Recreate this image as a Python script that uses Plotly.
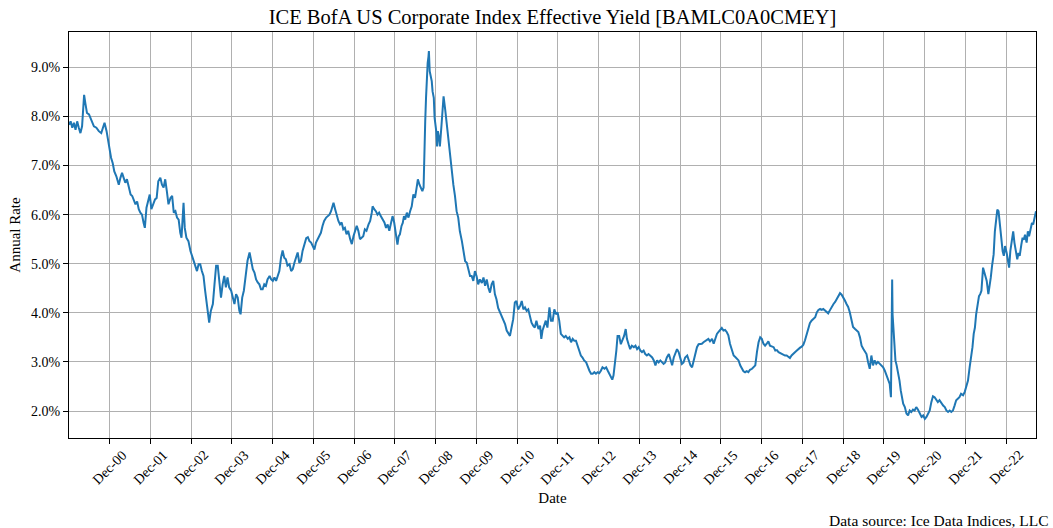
import plotly.graph_objects as go
from datetime import datetime

# decimal-year positions (Dec-00 tick == 2001.0)
years = [
 2000.00,2000.04,2000.08,2000.12,2000.16,2000.20,2000.24,2000.28,2000.32,2000.35,2000.37,2000.40,2000.44,2000.49,
 2000.53,2000.57,2000.61,2000.67,2000.73,2000.79,2000.84,2000.87,2000.92,2000.96,2001.00,2001.03,2001.07,2001.11,
 2001.16,2001.22,2001.26,2001.30,2001.34,2001.38,2001.42,2001.47,2001.51,2001.55,2001.59,2001.63,2001.67,2001.71,
 2001.75,2001.79,2001.83,2001.86,2001.90,2001.94,2001.98,2002.02,2002.06,2002.11,2002.15,2002.19,2002.24,2002.28,
 2002.32,2002.36,2002.40,2002.44,2002.49,2002.53,2002.57,2002.61,2002.65,2002.69,2002.73,2002.76,2002.81,2002.84,
 2002.88,2002.93,2002.98,2003.02,2003.06,2003.10,2003.14,2003.18,2003.22,
 2003.26,2003.30,2003.34,2003.38,2003.42,2003.44,2003.48,2003.53,2003.57,2003.61,2003.65,2003.69,2003.73,2003.77,
 2003.81,2003.85,2003.89,2003.93,2003.98,2004.02,2004.06,2004.10,2004.14,2004.18,2004.21,2004.25,2004.29,2004.34,
 2004.38,2004.43,2004.47,2004.51,2004.55,2004.59,2004.63,2004.67,2004.71,2004.75,2004.79,2004.83,2004.87,2004.92,
 2004.96,2005.00,2005.04,2005.08,2005.12,2005.16,2005.20,2005.24,2005.28,2005.32,2005.36,2005.41,2005.45,2005.49,
 2005.53,2005.57,2005.61,2005.65,2005.69,2005.73,2005.77,2005.82,2005.86,2005.90,2005.94,2005.98,2006.02,2006.06,
 2006.10,2006.14,2006.18,2006.22,2006.26,2006.31,2006.35,2006.39,2006.43,2006.47,2006.49,2006.53,2006.57,2006.61,
 2006.65,2006.69,2006.73,2006.77,2006.81,2006.85,2006.90,2006.94,2006.98,2007.02,2007.06,2007.10,2007.14,2007.18,
 2007.22,2007.26,2007.30,2007.35,2007.39,2007.43,2007.45,2007.49,2007.53,2007.57,2007.61,2007.65,2007.69,2007.74,
 2007.78,2007.82,2007.86,2007.90,2007.94,2007.98,2008.02,
 2008.06,2008.09,2008.12,2008.16,2008.19,2008.22,2008.25,2008.29,2008.33,2008.37,2008.41,2008.45,2008.49,2008.53,
 2008.56,2008.60,2008.63,2008.67,2008.70,2008.71,2008.73,2008.74,2008.76,2008.78,2008.80,2008.82,2008.83,2008.85,
 2008.87,2008.90,2008.92,2008.95,2008.97,2009.01,2009.03,2009.05,2009.08,2009.10,2009.14,2009.17,2009.19,2009.23,
 2009.26,2009.29,2009.32,2009.36,2009.39,2009.43,2009.47,2009.51,2009.55,2009.59,2009.64,2009.68,2009.72,2009.76,
 2009.80,2009.84,2009.88,2009.92,2009.96,2010.00,2010.04,2010.08,2010.13,2010.17,2010.21,2010.25,2010.29,2010.33,
 2010.37,2010.41,2010.45,2010.49,2010.53,2010.58,
 2010.62,2010.66,2010.70,2010.74,2010.78,2010.82,2010.86,2010.90,2010.94,2010.98,2011.02,2011.07,2011.11,2011.15,
 2011.19,2011.23,2011.27,2011.31,2011.35,2011.39,2011.43,2011.47,2011.52,2011.56,2011.59,2011.62,2011.66,2011.70,
 2011.74,2011.79,2011.83,2011.87,2011.91,2011.95,2011.99,2012.03,2012.07,2012.11,2012.15,2012.19,2012.24,2012.28,
 2012.32,2012.36,2012.40,2012.44,2012.48,2012.52,2012.56,2012.60,2012.64,2012.69,2012.73,2012.77,2012.81,2012.85,
 2012.89,2012.93,2012.97,2013.01,2013.05,2013.09,2013.14,2013.18,2013.22,2013.26,2013.30,2013.33,2013.36,2013.40,
 2013.43,2013.46,2013.50,2013.54,2013.58,2013.62,2013.66,2013.69,2013.73,2013.77,2013.81,2013.86,2013.90,2013.94,
 2013.98,2014.02,2014.06,2014.10,2014.14,2014.18,2014.22,2014.27,2014.31,2014.35,2014.39,2014.43,2014.47,2014.51,
 2014.55,2014.59,2014.63,2014.67,2014.72,2014.76,2014.80,2014.84,2014.88,2014.92,2014.96,2015.00,2015.04,2015.08,
 2015.12,2015.17,2015.21,2015.25,2015.29,2015.33,2015.37,2015.41,2015.45,
 2015.53,2015.57,2015.61,2015.65,2015.69,2015.73,2015.78,2015.82,2015.86,2015.90,2015.94,2015.98,2016.02,2016.06,
 2016.10,2016.14,2016.18,2016.22,2016.27,2016.31,2016.35,2016.39,2016.43,2016.47,2016.51,2016.55,2016.59,2016.63,
 2016.67,2016.71,2016.76,2016.80,2016.84,2016.88,2016.92,2016.96,2017.00,2017.04,2017.08,2017.12,2017.16,2017.20,
 2017.24,2017.29,2017.33,2017.37,2017.41,2017.45,2017.49,2017.53,2017.57,2017.61,2017.65,2017.69,2017.73,2017.78,
 2017.82,2017.86,2017.90,2017.94,2017.98,2018.02,2018.06,2018.10,2018.14,2018.18,2018.22,2018.27,2018.31,2018.35,
 2018.39,2018.43,2018.47,2018.51,2018.55,2018.59,2018.63,2018.67,2018.71,2018.76,2018.80,2018.84,2018.88,2018.92,
 2018.96,2019.00,2019.04,2019.08,2019.12,2019.16,2019.20,2019.24,2019.29,2019.33,2019.37,2019.41,2019.45,2019.49,
 2019.53,2019.57,2019.61,2019.65,
 2019.69,2019.73,2019.77,2019.81,2019.85,2019.89,2019.93,2019.98,2020.02,2020.06,2020.10,2020.14,2020.17,2020.19,
 2020.20,2020.21,2020.23,2020.25,2020.28,2020.31,2020.34,2020.38,2020.41,2020.44,2020.47,2020.51,2020.55,2020.59,
 2020.63,2020.67,2020.71,2020.75,2020.79,2020.83,2020.87,2020.92,2020.96,2021.00,2021.04,2021.08,2021.12,2021.16,
 2021.20,2021.24,2021.28,2021.32,2021.36,2021.41,2021.45,2021.49,2021.53,2021.57,2021.61,2021.65,2021.69,2021.73,
 2021.77,2021.81,2021.85,2021.89,2021.94,2021.98,2022.02,2022.06,2022.10,2022.13,2022.17,2022.20,2022.23,2022.26,
 2022.30,2022.33,2022.36,2022.39,2022.43,2022.46,2022.49,2022.52,2022.56,2022.59,2022.62,2022.65,2022.69,2022.72,
 2022.75,2022.78,2022.81,2022.84,2022.87,2022.91,2022.94,2022.97,2023.01,2023.04,2023.07,2023.10,2023.14,2023.17,
 2023.20,2023.24,2023.27,2023.30,2023.33,2023.37,2023.40,2023.43,2023.46,2023.50,2023.53,2023.56,2023.59,2023.63,
 2023.66,2023.69,2023.73,
]

# effective yield (%)
yield_pct = [
 7.83,7.90,7.77,7.87,7.73,7.90,7.77,7.66,7.80,8.24,8.44,8.27,8.07,8.04,
 7.96,7.90,7.80,7.77,7.70,7.66,7.77,7.87,7.70,7.49,7.33,7.16,7.05,6.88,
 6.78,6.61,6.75,6.85,6.75,6.65,6.72,6.55,6.41,6.38,6.31,6.21,6.27,6.11,
 6.04,6.00,5.83,5.73,6.14,6.31,6.41,6.11,6.21,6.31,6.34,6.68,6.75,6.61,
 6.55,6.72,6.48,6.21,6.34,6.38,6.04,6.07,5.94,5.90,5.63,5.53,6.24,5.73,
 5.53,5.46,5.26,5.16,5.05,4.99,4.85,4.99,4.99,
 4.85,4.75,4.45,4.18,3.97,3.80,4.04,4.18,4.58,4.96,4.96,4.65,4.31,4.58,
 4.75,4.52,4.72,4.52,4.45,4.31,4.18,4.38,4.31,4.04,3.97,4.31,4.45,4.79,
 5.06,5.23,5.06,4.89,4.82,4.68,4.62,4.58,4.48,4.48,4.58,4.55,4.68,4.75,
 4.68,4.65,4.72,4.65,4.75,4.85,5.12,5.27,5.12,5.09,4.96,4.99,4.85,4.89,
 5.02,5.12,5.23,5.02,5.06,5.26,5.40,5.52,5.54,5.46,5.43,5.36,5.29,5.43,
 5.50,5.56,5.63,5.77,5.87,5.94,5.97,6.00,6.07,6.21,6.24,6.11,5.97,5.87,
 5.80,5.84,5.70,5.73,5.60,5.67,5.50,5.40,5.56,5.67,5.77,5.67,5.50,5.53,
 5.56,5.70,5.67,5.80,5.87,6.04,6.17,6.11,6.07,6.00,6.04,5.97,5.90,5.84,
 5.73,5.80,5.67,5.84,5.97,5.84,5.56,
 5.39,5.56,5.60,5.77,5.83,5.97,5.90,6.04,5.94,6.07,6.17,6.41,6.34,6.55,
 6.72,6.61,6.55,6.48,6.55,7.02,7.63,7.90,8.38,8.92,9.09,9.22,9.33,8.92,
 8.82,8.72,8.51,8.38,7.97,7.70,7.39,7.70,7.56,7.39,7.83,8.27,8.41,8.14,
 7.90,7.63,7.49,7.16,6.88,6.61,6.38,6.07,5.94,5.66,5.46,5.22,5.05,5.02,
 4.88,4.75,4.75,4.65,4.85,4.75,4.58,4.68,4.61,4.72,4.55,4.68,4.51,4.41,
 4.58,4.65,4.38,4.27,4.10,4.00,
 3.94,3.84,3.77,3.64,3.57,3.53,3.70,3.87,4.21,4.24,4.07,4.14,4.24,4.07,
 4.11,4.04,4.07,3.91,3.80,3.74,3.70,3.84,3.67,3.74,3.47,3.64,3.74,3.84,
 3.70,4.11,3.84,3.84,4.07,3.97,4.01,3.84,3.57,3.53,3.50,3.53,3.47,3.50,
 3.40,3.47,3.43,3.43,3.33,3.26,3.13,3.09,3.03,2.99,2.89,2.82,2.76,2.76,
 2.79,2.76,2.79,2.77,2.82,2.89,2.86,2.89,2.82,2.76,2.69,2.64,2.72,2.96,
 3.23,3.53,3.53,3.36,3.43,3.53,3.67,3.47,3.36,3.26,3.33,3.30,3.33,3.26,
 3.30,3.23,3.20,3.23,3.16,3.13,3.16,3.13,3.09,3.03,2.93,3.03,2.99,3.03,
 2.99,2.96,2.99,3.09,3.16,3.03,2.93,3.09,3.20,3.26,3.20,3.09,2.96,2.99,
 3.09,3.13,3.03,2.93,2.89,3.03,3.13,3.30,3.36,
 3.37,3.40,3.42,3.44,3.47,3.42,3.47,3.37,3.50,3.57,3.61,3.65,3.69,3.64,
 3.65,3.61,3.54,3.37,3.23,3.13,3.10,3.06,3.03,2.93,2.86,2.81,2.79,2.81,
 2.79,2.84,2.86,2.89,2.93,3.20,3.40,3.50,3.47,3.37,3.33,3.37,3.42,3.33,
 3.31,3.30,3.23,3.24,3.20,3.18,3.16,3.15,3.13,3.13,3.10,3.08,3.13,3.16,
 3.20,3.23,3.27,3.29,3.31,3.35,3.44,3.57,3.71,3.79,3.84,3.88,3.91,4.01,
 4.06,4.08,4.06,4.08,4.05,4.01,3.99,4.05,4.12,4.18,4.22,4.29,4.35,4.40,
 4.37,4.32,4.25,4.18,4.12,4.01,3.88,3.71,3.67,3.64,3.61,3.50,3.33,3.27,
 3.20,3.16,2.99,2.86,
 3.13,2.93,3.03,2.96,3.00,2.96,2.93,2.89,2.82,2.72,2.66,2.55,2.28,3.84,
 4.68,3.97,3.70,3.50,3.03,2.93,2.82,2.62,2.42,2.28,2.15,2.08,1.95,1.91,
 2.01,1.98,2.03,2.01,2.08,2.03,1.95,1.88,1.91,1.84,1.88,1.95,2.01,2.18,
 2.30,2.28,2.22,2.18,2.22,2.15,2.11,2.08,2.01,1.98,2.01,1.98,2.01,2.11,
 2.22,2.25,2.28,2.35,2.32,2.39,2.49,2.62,2.89,3.03,3.30,3.57,3.70,3.97,
 4.24,4.34,4.38,4.45,4.92,4.82,4.72,4.65,4.38,4.51,4.72,4.95,5.19,5.66,
 5.83,6.10,6.07,5.80,5.49,5.26,5.16,5.36,5.22,5.05,4.92,5.26,5.49,5.66,
 5.43,5.22,5.09,5.22,5.16,5.39,5.53,5.49,5.59,5.43,5.66,5.56,5.70,5.83,
 5.80,5.90,6.07,
]

tick_dates = ['2000-12-31','2001-12-31','2002-12-31','2003-12-31','2004-12-31','2005-12-31',
              '2006-12-31','2007-12-31','2008-12-31','2009-12-31','2010-12-31','2011-12-31',
              '2012-12-31','2013-12-31','2014-12-31','2015-12-31','2016-12-31','2017-12-31',
              '2018-12-31','2019-12-31','2020-12-31','2021-12-31','2022-12-31']
tick_labels = ['Dec-00','Dec-01','Dec-02','Dec-03','Dec-04','Dec-05','Dec-06','Dec-07',
               'Dec-08','Dec-09','Dec-10','Dec-11','Dec-12','Dec-13','Dec-14','Dec-15',
               'Dec-16','Dec-17','Dec-18','Dec-19','Dec-20','Dec-21','Dec-22']
ytick_vals = [2, 3, 4, 5, 6, 7, 8, 9]
ytick_text = ['2.0%', '3.0%', '4.0%', '5.0%', '6.0%', '7.0%', '8.0%', '9.0%']


def to_date(y):
    yr = int(y)
    start = datetime(yr, 1, 1)
    end = datetime(yr + 1, 1, 1)
    return start + (end - start) * (y - yr)


dates = [to_date(y) for y in years]

FONT = 'Liberation Serif'
BLUE = '#1f77b4'
GRID = '#b0b0b0'

fig = go.Figure()
fig.add_trace(go.Scatter(x=dates, y=yield_pct, mode='lines',
                         line=dict(color=BLUE, width=2), hoverinfo='x+y'))

annotations = []
for d, lab in zip(tick_dates, tick_labels):
    annotations.append(dict(x=d, y=0, xref='x', yref='paper', text=lab, textangle=-45,
                            showarrow=False, xanchor='center', yanchor='middle',
                            yshift=-29.5, font=dict(family=FONT, size=14, color='black')))
annotations.append(dict(x=1, y=0, xref='paper', yref='paper',
                        text='Data source: Ice Data Indices, LLC', showarrow=False,
                        xanchor='right', yanchor='middle', xshift=14, yshift=-82,
                        font=dict(family=FONT, size=15.5, color='black')))

fig.update_layout(
    width=1053, height=528,
    margin=dict(l=69, r=17, t=32, b=90),
    paper_bgcolor='white', plot_bgcolor='white',
    font=dict(family=FONT, size=14, color='black'),
    showlegend=False,
    title=dict(text='ICE BofA US Corporate Index Effective Yield [BAMLC0A0CMEY]',
               x=0.5, xref='paper', xanchor='center',
               y=1 - 17 / 528, yref='container', yanchor='middle',
               font=dict(family=FONT, size=20.5, color='black')),
    annotations=annotations,
)
fig.update_xaxes(
    range=[dates[0], dates[-1]], tickvals=tick_dates, showticklabels=False,
    ticks='outside', ticklen=5, tickwidth=1, tickcolor='black',
    showgrid=True, gridcolor=GRID, gridwidth=1, zeroline=False,
    showline=True, linecolor='black', linewidth=1, mirror=True,
    title=dict(text='Date', standoff=49, font=dict(family=FONT, size=15)),
    automargin=False,
)
fig.update_yaxes(
    range=[1.45, 9.72], tickvals=ytick_vals, ticktext=ytick_text,
    ticks='outside', ticklen=5, tickwidth=1, tickcolor='black',
    tickfont=dict(family=FONT, size=14),
    showgrid=True, gridcolor=GRID, gridwidth=1, zeroline=False,
    showline=True, linecolor='black', linewidth=1, mirror=True,
    title=dict(text='Annual Rate', standoff=6, font=dict(family=FONT, size=15)),
    automargin=False,
)

fig.write_html('out.html')
